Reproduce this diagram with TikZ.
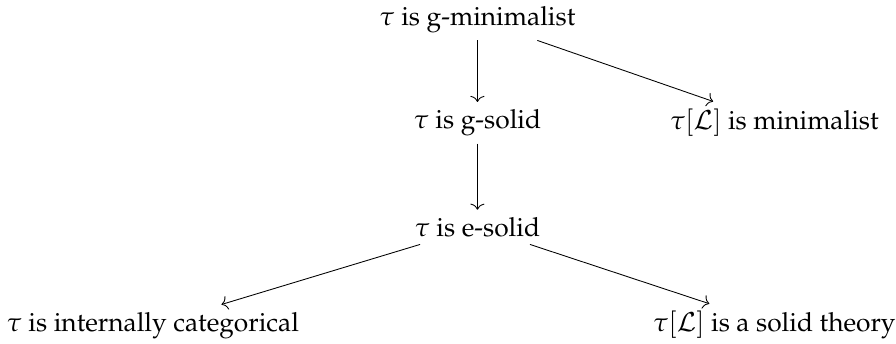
\documentclass[tikz,border=0pt]{standalone}
\usepackage[T1]{fontenc}
\usepackage{mathpazo}
\usetikzlibrary{arrows.meta}

\begin{document}
\begin{tikzpicture}[imp/.style={-{To[length=2.8pt,width=6.5pt]}, line width=0.4pt},
                    stmt/.style={inner sep=3.3pt, font=\fontsize{12.2pt}{14pt}\selectfont}]
\pgfmathsetmacro{\xl}{2.49}   % left column
\pgfmathsetmacro{\xm}{7.78}   % middle column
\pgfmathsetmacro{\xr}{12.62}  % right column
\useasboundingbox (0,0) rectangle (14.6,-5.6);
% Statements
\node[stmt] (gmin) at (\xm, -0.32) {$\tau$ is g-minimalist};
\node[stmt] (gsol) at (\xm, -2.00) {$\tau$ is g-solid};
\node[stmt] (lmin) at (\xr, -2.00) {$\tau[\mathcal{L}]$ is minimalist};
\node[stmt] (esol) at (\xm, -3.70) {$\tau$ is e-solid};
\node[stmt] (icat) at (\xl, -5.30) {$\tau$ is internally categorical};
\node[stmt] (lsol) at (\xr, -5.30) {$\tau[\mathcal{L}]$ is a solid theory};
% Implications
\foreach \a/\b in {gmin/gsol, gmin/lmin, gsol/esol, esol/icat, esol/lsol}
    \draw[imp] (\a) -- (\b);
\end{tikzpicture}
\end{document}
